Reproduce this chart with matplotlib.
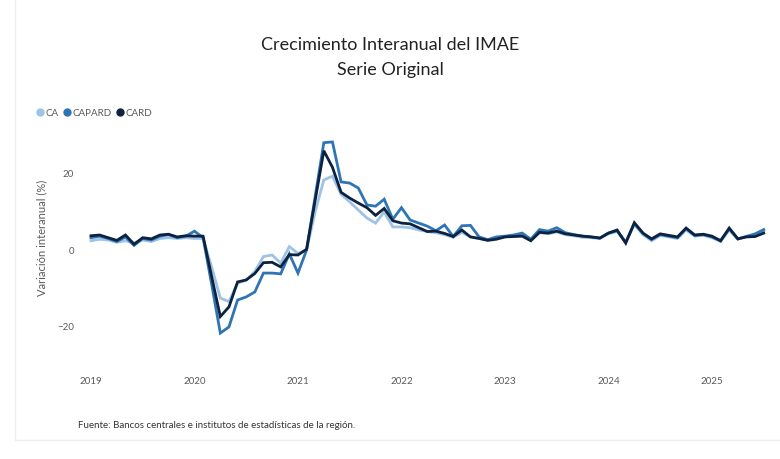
import matplotlib.pyplot as plt
from matplotlib.lines import Line2D

plt.rcParams["font.family"] = ["Lato", "DejaVu Sans"]

C_CA = "#9dc3e6"
C_CAPARD = "#2e75b6"
C_CARD = "#0d2240"
GREY = "#5a5a5a"

# monthly year-on-year growth of the IMAE, Jan 2019 .. Jul 2025
years = ["2019", "2020", "2021", "2022", "2023", "2024", "2025"]

ca = [2.4, 2.8, 2.6, 2.0, 2.4, 1.8, 2.6, 2.2, 3.0, 3.2, 3.0, 3.2,
      3.0, 3.0, -4.5, -12.5, -13.4, -8.6, -7.8, -5.6, -1.7, -1.3, -3.4, 0.9,
      -0.9, 0.0, 10.0, 18.2, 19.2, 14.5, 12.5, 10.4, 8.3, 7.0, 9.9, 6.0,
      6.0, 5.8, 5.2, 4.8, 4.5, 4.0, 3.3, 4.6, 3.4, 3.0, 2.6, 3.0,
      3.4, 3.8, 3.9, 2.6, 4.5, 4.2, 4.7, 4.0, 3.7, 3.3, 3.2, 3.0,
      4.2, 4.8, 2.0, 6.6, 4.0, 2.4, 3.8, 3.4, 3.0, 5.2, 3.6, 3.8,
      3.2, 2.2, 5.2, 2.8, 3.6, 4.0, 5.0]

capard = [3.2, 3.6, 3.0, 2.2, 3.4, 1.2, 3.0, 2.6, 3.6, 4.0, 3.2, 3.6,
          4.9, 3.2, -9.0, -21.6, -20.0, -13.0, -12.2, -10.9, -6.0, -6.0, -6.2, -1.0,
          -6.0, 0.0, 14.0, 27.9, 28.1, 17.7, 17.4, 16.1, 11.7, 11.4, 13.2, 8.0,
          11.0, 7.8, 7.0, 6.2, 5.0, 6.5, 3.5, 6.3, 6.4, 3.4, 2.7, 3.4,
          3.6, 3.9, 4.4, 2.8, 5.3, 4.9, 5.8, 4.5, 4.0, 3.6, 3.4, 3.1,
          4.4, 5.0, 2.0, 6.9, 4.3, 2.7, 4.0, 3.6, 3.2, 5.6, 3.8, 4.0,
          3.4, 2.4, 5.5, 2.9, 3.5, 4.2, 5.3]

card = [3.7, 3.9, 3.2, 2.5, 3.9, 1.5, 3.2, 2.9, 3.9, 4.1, 3.4, 3.7,
        3.6, 3.6, -7.0, -17.3, -14.8, -8.3, -7.8, -6.1, -3.3, -3.2, -4.4, -1.2,
        -1.3, 0.2, 13.0, 25.8, 21.5, 15.0, 13.5, 12.2, 11.0, 9.0, 10.8, 7.6,
        7.0, 6.8, 5.8, 4.8, 4.9, 4.3, 3.5, 5.2, 3.4, 3.0, 2.5, 2.8,
        3.4, 3.5, 3.6, 2.4, 4.6, 4.4, 4.9, 4.2, 3.9, 3.6, 3.4, 3.1,
        4.4, 5.2, 1.8, 7.1, 4.4, 2.9, 4.2, 3.8, 3.4, 5.7, 3.9, 4.1,
        3.6, 2.4, 5.7, 2.9, 3.4, 3.5, 4.4]

months = list(range(len(card)))

fig = plt.figure(figsize=(7.8, 4.59), dpi=100)
ax = fig.add_axes([85 / 780, 1 - 345 / 459, 687 / 780, 215 / 459])

ax.plot(months, ca, color=C_CA, lw=2.0, solid_joinstyle="miter", zorder=1)
ax.plot(months, capard, color=C_CAPARD, lw=2.0, solid_joinstyle="miter", zorder=2)
ax.plot(months, card, color=C_CARD, lw=2.0, solid_joinstyle="miter", zorder=3)

ax.set_xlim(-0.69, 78.96)
ax.set_ylim(-24.7, 31.2)
ax.set_xticks([12 * i for i in range(len(years))])
ax.set_xticklabels(years)
ax.set_yticks([-20, 0, 20])
ax.tick_params(axis="x", length=0, pad=23, labelsize=7, labelcolor=GREY)
ax.tick_params(axis="y", length=0, pad=8, labelsize=7, labelcolor=GREY)
for s in ax.spines.values():
    s.set_visible(False)
ax.set_ylabel("Variación interanual (%)", fontsize=8, color=GREY, labelpad=7)

fig.text(0.5, 1 - 45 / 459, "Crecimiento Interanual del IMAE", ha="center", va="center",
         fontsize=13, color="#222222")
fig.text(0.5, 1 - 70 / 459, "Serie Original", ha="center", va="center",
         fontsize=13, color="#222222")

handles = [Line2D([], [], marker="o", ls="", color=c, markersize=5)
           for c in (C_CA, C_CAPARD, C_CARD)]
fig.legend(handles, ["CA", "CAPARD", "CARD"], loc="center left",
           bbox_to_anchor=(36 / 780, 1 - 113 / 459), ncol=3, frameon=False,
           fontsize=7, labelcolor=GREY, handletextpad=0.1, columnspacing=0.4,
           borderaxespad=0, borderpad=0, handlelength=0.9)

fig.text(78 / 780, 1 - 425 / 459,
         "Fuente: Bancos centrales e institutos de estadísticas de la región.",
         ha="left", va="center", fontsize=7, color="#333333")

# faint frame of the original slide
fig.add_artist(Line2D([15 / 780, 15 / 780], [1 - 440 / 459, 1], color="#eeeeee", lw=1))
fig.add_artist(Line2D([15 / 780, 1], [1 - 440 / 459, 1 - 440 / 459], color="#eeeeee", lw=1))

fig.savefig("out.png", dpi=100)
